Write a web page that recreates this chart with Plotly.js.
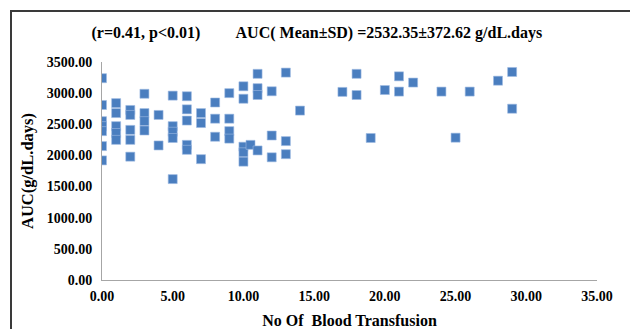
<!DOCTYPE html>
<html>
<head>
<meta charset="utf-8">
<script src="https://cdn.plot.ly/plotly-3.0.1.min.js"></script>
<style>
  html, body { margin: 0; padding: 0; background: #fff; }
  #wrap { position: relative; width: 630px; height: 329px; overflow: hidden; }
  #chart { width: 630px; height: 329px; }
  #frame { position: absolute; left: 10px; top: 10px; width: 700px; height: 400px;
           border-left: 2px solid #3a3a3a; border-top: 2px solid #3a3a3a; pointer-events: none; }
</style>
</head>
<body>
<div id="wrap">
  <div id="chart"></div>
  <div id="frame"></div>
</div>
<script>
// Number of blood transfusions (x) and AUC values (y)
const transfusions = [
  0,0,0,0,0,0,0,
  1,1,1,1,1,
  2,2,2,2,2,
  3,3,3,3,
  4,4,
  5,5,5,5,5,
  6,6,6,6,6,
  7,7,7,
  8,8,8,
  9,9,9,9,
  10,10,10,10,10,
  10.5,
  11,11,11,11,
  12,12,12,
  13,13,13,
  14,
  17,
  18,18,
  19,
  20,
  21,21,
  22,
  24,
  25,
  26,
  28,
  29,29
];
const auc = [
  3240,2810,2550,2470,2390,2150,1920,
  2840,2680,2470,2360,2250,
  2730,2650,2410,2250,1980,
  2990,2680,2550,2400,
  2650,2160,
  2960,2470,2380,2280,1620,
  2950,2740,2560,2170,2090,
  2680,2520,1940,
  2850,2590,2300,
  3000,2590,2390,2270,
  3110,2910,2140,2050,1900,
  2170,
  3310,3080,2970,2080,
  3030,2320,1970,
  3330,2230,2020,
  2720,
  3020,
  3310,2970,
  2280,
  3050,
  3270,3025,
  3170,
  3025,
  2285,
  3025,
  3200,
  3340,2750
];
const chartTitle = '(r=0.41, p<0.01)\u00A0\u00A0\u00A0\u00A0\u00A0\u00A0\u00A0\u00A0 AUC( Mean±SD) =2532.35±372.62 g/dL.days';
const xTitle = 'No Of \u00A0Blood Transfusion';
const yTitle = 'AUC(g/dL.days)';

const serif = 'Liberation Serif, Times New Roman, serif';

const trace = {
  type: 'scatter',
  mode: 'markers',
  x: transfusions,
  y: auc,
  marker: {
    symbol: 'square',
    size: 9,
    color: '#4a7ebf',
    line: { color: '#9dbbe3', width: 0.6 }
  },
  hoverinfo: 'x+y'
};

const layout = {
  width: 630,
  height: 329,
  margin: { l: 102, r: 33, t: 62, b: 49 },
  paper_bgcolor: '#ffffff',
  plot_bgcolor: '#ffffff',
  showlegend: false,
  title: {
    text: chartTitle,
    font: { family: serif, size: 16, color: '#000', weight: 'bold' },
    xref: 'container', yref: 'container',
    x: 0.503, xanchor: 'center',
    y: 1 - 32 / 329, yanchor: 'middle'
  },
  xaxis: {
    range: [0, 35],
    dtick: 5,
    tick0: 0,
    tickformat: '.2f',
    showgrid: false,
    zeroline: false,
    showline: true,
    linecolor: '#a6a6a6',
    linewidth: 1,
    ticks: '',
    ticklabelstandoff: 3,
    tickfont: { family: serif, size: 14, color: '#000', weight: 'bold' },
    title: { text: xTitle, font: { family: serif, size: 16, color: '#000', weight: 'bold' }, standoff: 12 },
    fixedrange: true
  },
  yaxis: {
    range: [0, 3500],
    dtick: 500,
    tick0: 0,
    tickformat: '.2f',
    showgrid: false,
    zeroline: false,
    showline: true,
    linecolor: '#a6a6a6',
    linewidth: 1,
    ticks: '',
    ticklabelstandoff: 6,
    tickfont: { family: serif, size: 14, color: '#000', weight: 'bold' },
    title: { text: yTitle, font: { family: serif, size: 16.5, color: '#000', weight: 'bold' }, standoff: 8 },
    fixedrange: true
  }
};

Plotly.newPlot('chart', [trace], layout, { displayModeBar: false, staticPlot: true });
</script>
</body>
</html>
